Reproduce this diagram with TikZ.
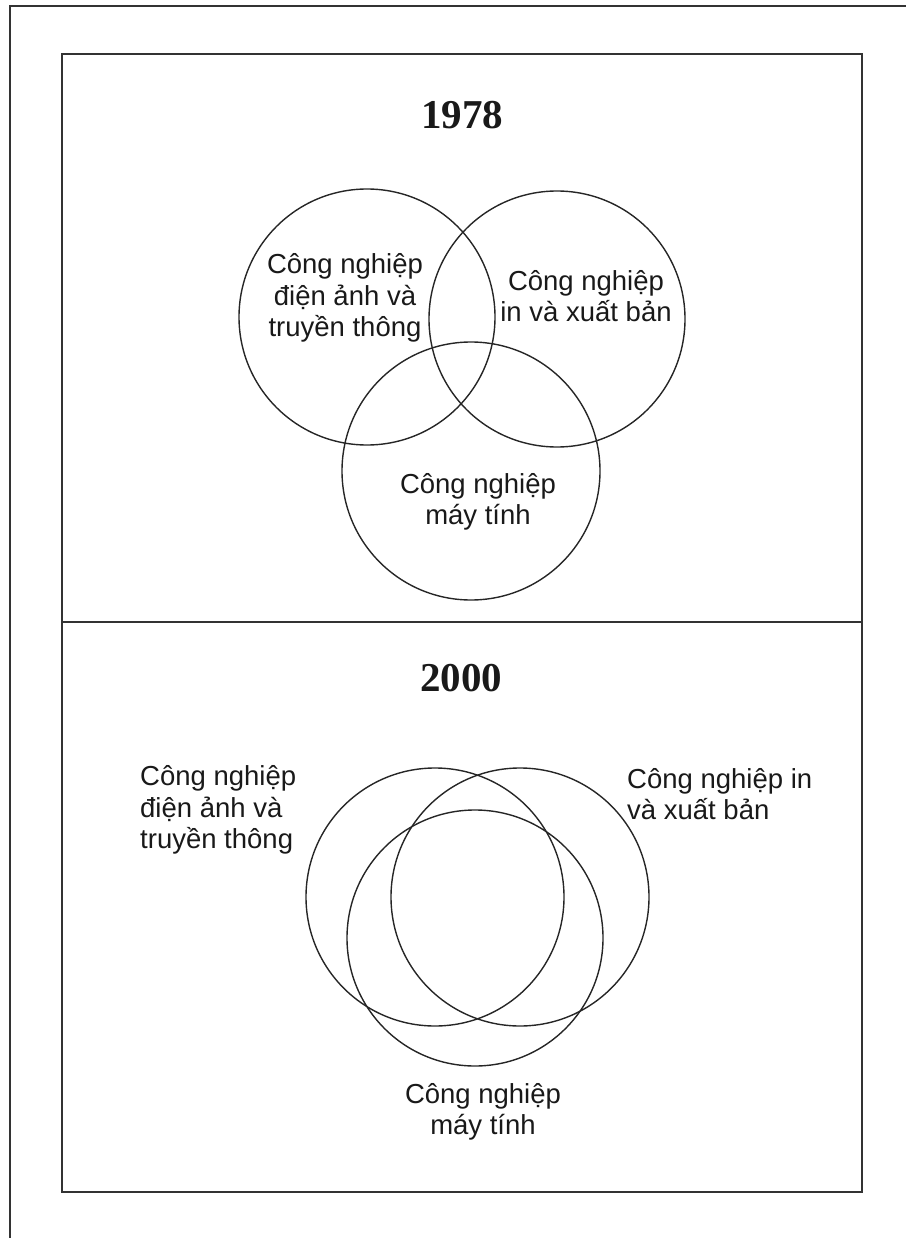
\documentclass[tikz,border=0pt]{standalone}
\usepackage{fontspec}
\setmainfont{Liberation Sans}
\newfontfamily\titlefont{Liberation Serif}
\begin{document}
\begin{tikzpicture}[x=1pt,y=-1pt,
  frame/.style={draw=black!80,line width=1.8pt},
  venn/.style={draw=black!85,line width=1.4pt},
  lbl/.style={font=\fontsize{27.5}{31.5}\selectfont,text=black!90,inner sep=0pt},
  yr/.style={font=\titlefont\bfseries\fontsize{41}{44}\selectfont,text=black!90,inner sep=0pt}]
\useasboundingbox (0,0) rectangle (905,1238);
% outer page frame
\coordinate (ol) at (10,1240);
\coordinate (otl) at (10,6);
\coordinate (otr) at (907,6);
\draw[frame] (ol) -- (otl) -- (otr);
% inner frame and divider
\draw[frame] (62,54) rectangle (862,1192);
\coordinate (dl) at (62,622);
\coordinate (dr) at (862,622);
\draw[frame] (dl) -- (dr);
% 1978 part
\node[yr] (y1) at (462,115) {1978};
\draw[venn] (367,317) circle (128);
\draw[venn] (557,319) circle (128);
\draw[venn] (471,471) circle (129);
\node[lbl,align=center] (a1) at (345,298) {Công nghiệp\\điện ảnh và\\truyền thông};
\node[lbl,align=center] (b1) at (586,296) {Công nghiệp\\in và xuất bản};
\node[lbl,align=center] (c1) at (478,502) {Công nghiệp\\máy tính};
% 2000 part
\node[yr] (y2) at (461,678) {2000};
\draw[venn] (435,897) circle (129);
\draw[venn] (520,897) circle (129);
\draw[venn] (475,938) circle (128);
\node[lbl,align=left,anchor=west] (a2) at (140,810) {Công nghiệp\\điện ảnh và\\truyền thông};
\node[lbl,align=left,anchor=west] (b2) at (627,794) {Công nghiệp in\\và xuất bản};
\node[lbl,align=center] (c2) at (483,1112) {Công nghiệp\\máy tính};
\end{tikzpicture}
\end{document}
